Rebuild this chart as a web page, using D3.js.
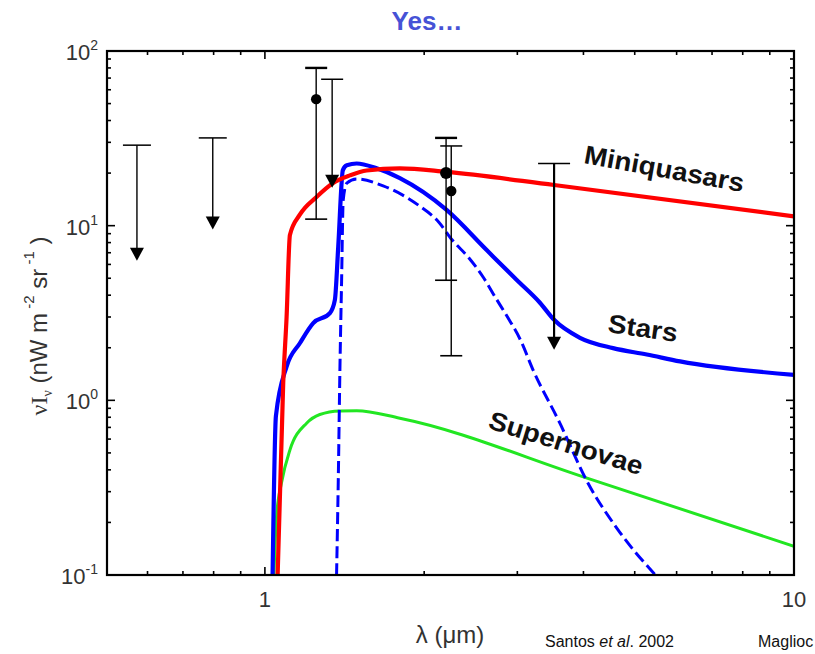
<!DOCTYPE html>
<html>
<head>
<meta charset="utf-8">
<script src="https://cdn.jsdelivr.net/npm/d3@7"></script>
<style>
  html, body { margin: 0; padding: 0; background: #fff; }
  svg { display: block; font-family: "Liberation Sans", Arial, Helvetica, sans-serif; }
</style>
</head>
<body>
<svg id="chart" width="815" height="654"></svg>
<script>
// ---------------- data ----------------
const xTickValues = [1, 10];
const xTickLabels = ["1", "10"];
const yTickValues = [0.1, 1, 10, 100];
const yTickExponents = ["-1", "0", "1", "2"];

// Miniquasars (red)
const miniquasarsLambda = [1.057, 1.083, 1.099, 1.115, 1.165, 1.252, 1.344, 1.448, 1.557, 1.799, 2.205, 3.52, 10];
const miniquasarsFlux   = [0.1,   1.26,  3.0,   8.85,  11.6,  14.6,  17.5,  19.4,  20.7,  21.3,  20.3,  17.1, 11.3];

// Stars (blue, solid)
const starsLambda = [1.034, 1.049, 1.099, 1.165, 1.234, 1.327, 1.356, 1.376, 1.404, 1.428, 1.491, 1.626, 1.799, 2.205, 2.625, 2.989, 3.31, 3.52, 3.94, 4.55, 5.27, 6.09, 10];
const starsFlux   = [0.1,   0.81,  1.56,  2.13,  2.77,  3.16,  3.76,  7.59,  20.8,  22.2,  22.7,  21.3,  18.7,  12.3,  7.25,  4.9,   3.62, 2.89, 2.28, 1.99, 1.83, 1.67, 1.40];

// Stars variant (blue, dashed)
const starsDashLambda = [1.366, 1.376, 1.386, 1.396, 1.406, 1.428, 1.491, 1.673, 1.95, 2.13, 2.26, 2.42, 2.59, 2.73, 2.88, 3.04, 3.21, 3.61, 4.05, 4.69, 5.47];
const starsDashFlux   = [0.1,   0.34,  1.5,   4.7,   14.0,  17.5,  18.5,  16.9,  13.1, 10.5, 8.27, 6.63, 5.03, 3.86, 2.97, 2.22, 1.50, 0.74, 0.35, 0.175, 0.1];

// Supernovae (green)
const supernovaeLambda = [1.04, 1.052, 1.075, 1.115, 1.199, 1.27, 1.386, 1.491, 1.799, 4.05, 10];
const supernovaeFlux   = [0.1,  0.218, 0.337, 0.52,  0.74,  0.83, 0.87,  0.873, 0.79,  0.36, 0.146];

// Observations: error bars / upper limits
const obsLambda  = [0.573, 0.797, 1.25, 1.34, 2.2,  2.25, 3.52];
const obsUpper   = [28.9,  31.8,  80,   68.9, 31.8, 28.6, 22.7];
const obsLower   = [6.3,   9.5,   10.9, 16.5, 4.87, 1.8,  1.95];
const obsValue   = [null,  null,  53,   null, 20,   15.8, null];
const obsIsLimit = [true,  true,  false, true, false, false, true];

const curveNames = ["Miniquasars", "Stars", "Supernovae"];

// ---------------- drawing ----------------
const svg = d3.select("#chart");
const L = 107, R = 794, T = 51, B = 575;

const x = d3.scaleLog().domain([0.503, 10]).range([L, R]);
const y = d3.scaleLog().domain([0.1, 100]).range([B, T]);

// title
svg.append("text").attr("x", 427).attr("y", 30).attr("text-anchor", "middle")
  .attr("font-size", 26).attr("font-weight", "bold").attr("fill", "#4652d6").text("Yes\u2026");

// clip
svg.append("defs").append("clipPath").attr("id", "clip")
  .append("rect").attr("x", L).attr("y", T).attr("width", R - L).attr("height", B - T);

const line = d3.line().x(d => x(d[0])).y(d => y(d[1])).curve(d3.curveMonotoneX);
const plot = svg.append("g").attr("clip-path", "url(#clip)");

plot.append("path").datum(d3.zip(supernovaeLambda, supernovaeFlux))
  .attr("d", line).attr("fill", "none").attr("stroke", "#22e622").attr("stroke-width", 3);
plot.append("path").datum(d3.zip(starsDashLambda, starsDashFlux))
  .attr("d", line).attr("fill", "none").attr("stroke", "#0000ff").attr("stroke-width", 3)
  .attr("stroke-dasharray", "12,5");
plot.append("path").datum(d3.zip(starsLambda, starsFlux))
  .attr("d", line).attr("fill", "none").attr("stroke", "#0000ff").attr("stroke-width", 4.2)
  .attr("stroke-linejoin", "round");
plot.append("path").datum(d3.zip(miniquasarsLambda, miniquasarsFlux))
  .attr("d", line).attr("fill", "none").attr("stroke", "#ff0000").attr("stroke-width", 4.2)
  .attr("stroke-linejoin", "round");

// error bars
const obs = obsLambda.map((l, i) => ({ l, up: obsUpper[i], lo: obsLower[i], v: obsValue[i], lim: obsIsLimit[i], i }));
const eb = svg.append("g").attr("stroke", "#000").attr("fill", "#000");
obs.forEach(o => {
  const cx = x(o.l);
  const sw = o.i === 6 ? 2.2 : 1.4;
  const hw = o.i === 6 ? 16 : (o.i < 2 ? 14 : 11);
  eb.append("line").attr("x1", cx - hw).attr("x2", cx + hw).attr("y1", y(o.up)).attr("y2", y(o.up))
    .attr("stroke-width", (o.i === 2 || o.i === 4) ? 2.4 : 1.5);
  if (o.lim) {
    const tip = y(o.lo);
    eb.append("line").attr("x1", cx).attr("x2", cx).attr("y1", y(o.up)).attr("y2", tip - 6).attr("stroke-width", sw);
    eb.append("path").attr("d", `M${cx - 7},${tip - 13}L${cx + 7},${tip - 13}L${cx},${tip}Z`).attr("stroke", "none");
  } else {
    eb.append("line").attr("x1", cx).attr("x2", cx).attr("y1", y(o.up)).attr("y2", y(o.lo)).attr("stroke-width", sw);
    eb.append("line").attr("x1", cx - hw).attr("x2", cx + hw).attr("y1", y(o.lo)).attr("y2", y(o.lo)).attr("stroke-width", 1.6);
    eb.append("circle").attr("cx", cx).attr("cy", y(o.v)).attr("r", o.i === 4 ? 6 : 5.2).attr("stroke", "none");
  }
});

// frame
svg.append("rect").attr("x", L).attr("y", T).attr("width", R - L).attr("height", B - T)
  .attr("fill", "none").attr("stroke", "#000").attr("stroke-width", 2.2);

// ticks
const ticks = svg.append("g").attr("stroke", "#000").attr("stroke-width", 1.6);
const xMinor = [0.6, 0.7, 0.8, 0.9, 2, 3, 4, 5, 6, 7, 8, 9];
xMinor.forEach(v => {
  ticks.append("line").attr("x1", x(v)).attr("x2", x(v)).attr("y1", B).attr("y2", B - 4);
  ticks.append("line").attr("x1", x(v)).attr("x2", x(v)).attr("y1", T).attr("y2", T + 4);
});
xTickValues.forEach(v => {
  ticks.append("line").attr("x1", x(v)).attr("x2", x(v)).attr("y1", B).attr("y2", B - 8);
  ticks.append("line").attr("x1", x(v)).attr("x2", x(v)).attr("y1", T).attr("y2", T + 8);
});
const yMinor = [];
[0.1, 1, 10].forEach(d => { for (let k = 2; k <= 9; k++) yMinor.push(d * k); });
yMinor.forEach(v => {
  ticks.append("line").attr("x1", L).attr("x2", L + 4).attr("y1", y(v)).attr("y2", y(v));
  ticks.append("line").attr("x1", R).attr("x2", R - 4).attr("y1", y(v)).attr("y2", y(v));
});
yTickValues.forEach(v => {
  ticks.append("line").attr("x1", L).attr("x2", L + 8).attr("y1", y(v)).attr("y2", y(v));
  ticks.append("line").attr("x1", R).attr("x2", R - 8).attr("y1", y(v)).attr("y2", y(v));
});

// tick labels
const tc = "#333";
xTickValues.forEach((v, i) => {
  svg.append("text").attr("x", x(v)).attr("y", 607).attr("text-anchor", "middle")
    .attr("font-size", 22).attr("fill", tc).text(xTickLabels[i]);
});
yTickValues.forEach((v, i) => {
  const t = svg.append("text").attr("x", 98).attr("y", y(v) + 9).attr("text-anchor", "end")
    .attr("font-size", 22).attr("fill", tc);
  t.append("tspan").text("10");
  t.append("tspan").attr("dy", -10).attr("font-size", 14).text(yTickExponents[i]);
});

// axis titles
svg.append("text").attr("x", 450).attr("y", 643).attr("text-anchor", "middle")
  .attr("font-size", 24).attr("fill", tc).text("\u03bb (\u03bcm)");

const yl = svg.append("text").attr("transform", "translate(47,326) rotate(-90)")
  .attr("text-anchor", "middle").attr("font-size", 24).attr("fill", tc);
yl.append("tspan").attr("font-family", "Liberation Serif, Times New Roman, serif").text("\u03bdI");
yl.append("tspan").attr("font-family", "Liberation Serif, Times New Roman, serif")
  .attr("font-size", 14).attr("dy", 5).text("\u03bd");
yl.append("tspan").attr("dy", -5).text(" (nW m");
yl.append("tspan").attr("font-size", 15).attr("dy", -13).text(" -2");
yl.append("tspan").attr("dy", 13).text("  sr");
yl.append("tspan").attr("font-size", 15).attr("dy", -13).text(" -1");
yl.append("tspan").attr("dy", 13).text(" )");

// curve labels
const lab = [
  { t: curveNames[0], x: 583, y: 163, a: 10.3, len: 162 },
  { t: curveNames[1], x: 607, y: 332, a: 8.1, len: 70 },
  { t: curveNames[2], x: 487, y: 428, a: 17.2, len: 160 }
];
lab.forEach(d => {
  svg.append("text").attr("transform", `translate(${d.x},${d.y}) rotate(${d.a})`)
    .attr("font-size", 26).attr("font-weight", "bold").attr("fill", "#111")
    .attr("textLength", d.len).attr("lengthAdjust", "spacingAndGlyphs").text(d.t);
});

// footer references
svg.append("text").attr("x", 545).attr("y", 647).attr("font-size", 16).attr("fill", "#111")
  .call(t => { t.append("tspan").text("Santos "); t.append("tspan").attr("font-style", "italic").text("et al"); t.append("tspan").text(". 2002"); });
svg.append("text").attr("x", 758).attr("y", 647).attr("font-size", 16).attr("fill", "#111").text("Maglioc");
</script>
</body>
</html>
